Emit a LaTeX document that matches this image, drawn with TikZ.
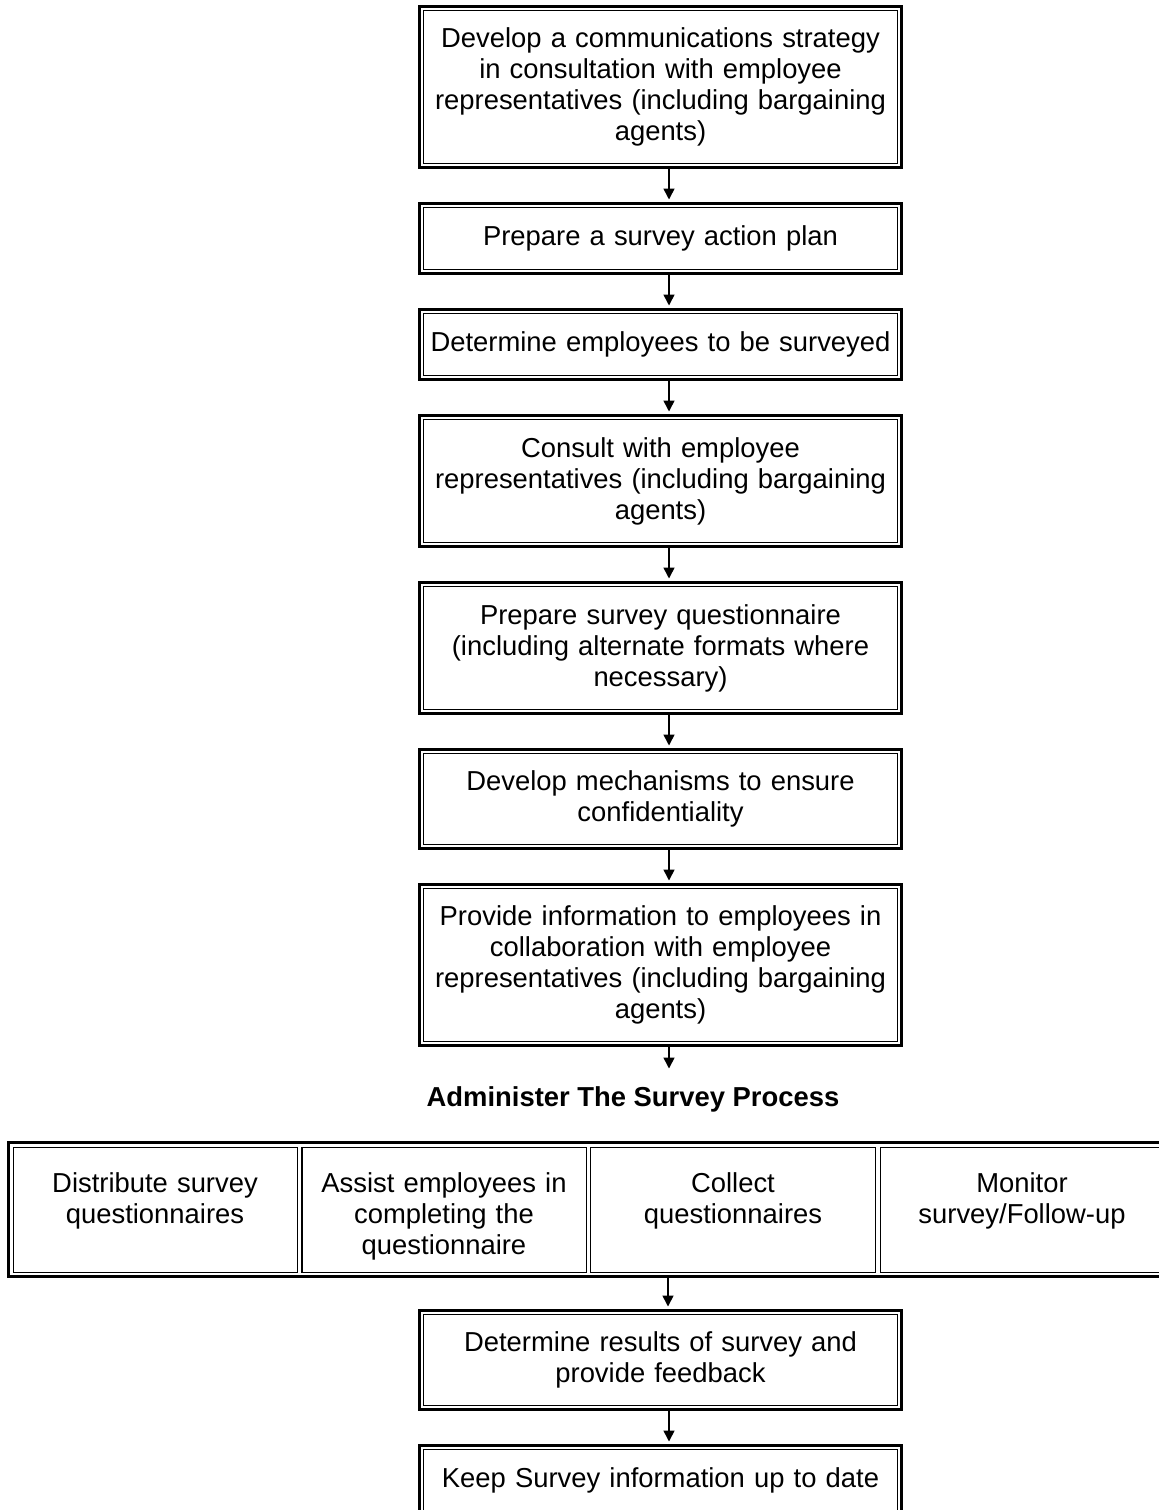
\documentclass[tikz,border=0pt]{standalone}
\usepackage{fontspec}
\setmainfont{Liberation Sans}
\usetikzlibrary{matrix, positioning, arrows.meta}

\begin{document}
\begin{tikzpicture}[
    every node/.style={font=\fontsize{13.7pt}{15.5pt}\selectfont},
    flow-box/.style={draw, line width=1.5pt, outer sep=0pt, minimum width=241pt,
      text width=232pt, align=center, inner sep=3pt,
      path picture={\draw[line width=0.5pt]
        ([shift={(2pt,2pt)}]path picture bounding box.south west) rectangle
        ([shift={(-2pt,-2pt)}]path picture bounding box.north east);}},
    box-1/.style={flow-box, minimum height=35pt},
    box-2/.style={flow-box, minimum height=49.5pt},
    box-3/.style={flow-box, minimum height=65.5pt},
    box-4/.style={flow-box, minimum height=80.5pt},
    task-row/.style={draw, line width=1.5pt, inner sep=2pt, outer sep=0pt, column sep=2pt,
      nodes={draw, line width=0.5pt, outer sep=0pt, text width=134pt, align=center,
        inner xsep=4pt, inner ysep=0pt, text height=22.5pt, text depth=40pt}},
    heading/.style={font=\fontsize{13.7pt}{15.5pt}\selectfont\bfseries},
    flow-arr/.style={-{Triangle[length=5.5pt,width=5.5pt]}, line width=0.8pt, shorten >=2pt}
  ]

  \useasboundingbox (0,0) rectangle (579.5pt,-755pt);

  % preparation steps
  \node[box-4, anchor=north] (strategy) at (330.25pt,-3.25pt)
    {Develop a communications strategy\\in consultation with employee\\representatives (including bargaining\\agents)};
  \node[box-1, below=18pt of strategy] (plan) {Prepare a survey action plan};
  \node[box-1, below=18pt of plan] (targets) {Determine employees to be surveyed};
  \node[box-3, below=18pt of targets] (consult)
    {Consult with employee\\representatives (including bargaining\\agents)};
  \node[box-3, below=18pt of consult] (questions)
    {Prepare survey questionnaire\\(including alternate formats where\\necessary)};
  \node[box-2, below=18pt of questions] (privacy) {Develop mechanisms to ensure\\confidentiality};
  \node[box-4, below=18pt of privacy] (inform)
    {Provide information to employees in\\collaboration with employee\\representatives (including bargaining\\agents)};

  \node[heading] (admin) at (316.5pt,-549.5pt) {Administer The Survey Process};
  \coordinate (admin-in) at ([xshift=4.25pt, yshift=-11.5pt]inform.south);

  % survey tasks
  \matrix (tasks) [task-row, anchor=north west] at (4.25pt,-571.25pt) {
    \node (distribute) {Distribute survey\\questionnaires}; &
    \node (assist) {Assist employees in\\completing the\\questionnaire}; &
    \node (collect) {Collect\\questionnaires}; &
    \node (monitor) {Monitor\\survey/Follow-up}; \\
  };
  \coordinate (tasks-foot) at (tasks.south -| inform.south);

  % follow-up steps
  \node[box-2, below=17pt of tasks-foot] (feedback) {Determine results of survey and\\provide feedback};
  \node[box-1, below=18pt of feedback] (upkeep) {Keep Survey information up to date};

  \foreach \a/\b in {strategy/plan, plan/targets, targets/consult, consult/questions,
      questions/privacy, privacy/inform, feedback/upkeep}
    \draw[flow-arr] ([xshift=4.25pt]\a.south) -- ([xshift=4.25pt]\b.north);
  \draw[flow-arr, shorten >=0pt] ([xshift=4.25pt]inform.south) -- (admin-in);
  \draw[flow-arr] ([xshift=3.75pt]tasks-foot) -- ([xshift=3.75pt]feedback.north);

\end{tikzpicture}
\end{document}
